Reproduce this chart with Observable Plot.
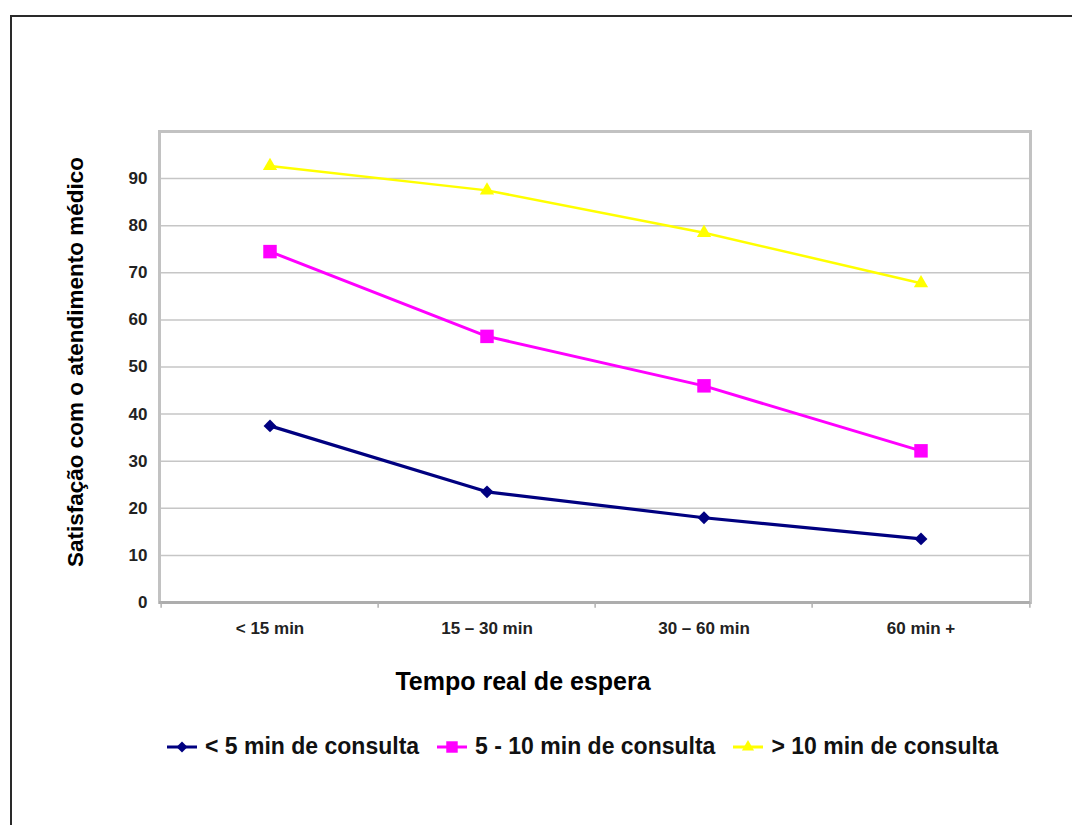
<!DOCTYPE html>
<html><head><meta charset="utf-8">
<script src="https://cdn.jsdelivr.net/npm/d3@7"></script>
<script src="https://cdn.jsdelivr.net/npm/@observablehq/plot@0.6"></script>
<style>
body{margin:0;background:#fff;font-family:"Liberation Sans",Arial,sans-serif;}
#wrap{position:relative;width:1072px;height:825px;overflow:hidden;background:#fff;}
#border{position:absolute;left:10px;top:15px;width:1200px;height:1000px;border:2.5px solid #2a2a2a;box-sizing:border-box;}
#chart{position:absolute;left:0;top:0;}
#legend{position:absolute;left:167px;top:733px;display:flex;align-items:center;font-weight:bold;font-size:23px;color:#111;white-space:nowrap;}
.item{display:flex;align-items:center;margin-right:18px;}
.item svg{margin-right:8px;}
</style></head>
<body><div id="wrap"><div id="border"></div><div id="chart"></div><div id="legend"></div></div>
<script>
const categories = ["< 15 min", "15 – 30 min", "30 – 60 min", "60 min +"];
const seriesNames = ["< 5 min de consulta", "5 - 10 min de consulta", "> 10 min de consulta"];
const lessThan5 = [37.5, 23.5, 18.0, 13.5];
const from5to10 = [74.5, 56.5, 46.0, 32.2];
const moreThan10 = [92.7, 87.5, 78.5, 67.8];
const seriesColors = ["#000080", "#ff00ff", "#ffff00"];
const seriesSymbols = ["diamond2", "square", "triangle"];
const seriesR = [5.8, 7.6, 5.3];
const seriesWidth = [3.2, 3, 2.5];
const yTicks = [0, 10, 20, 30, 40, 50, 60, 70, 80, 90];
const xTitle = "Tempo real de espera";
const yTitle = "Satisfação com o atendimento médico";

const seriesValues = [lessThan5, from5to10, moreThan10];
const data = [];
seriesNames.forEach((s, i) => categories.forEach((c, j) => data.push({series: s, cat: c, value: seriesValues[i][j]})));

const W = 1072, mL = 159, mR = 42;
const bw = (W - mL - mR) / categories.length;

const seriesMarks = seriesNames.flatMap((s, i) => {
  const d = data.filter(e => e.series === s);
  return [
    Plot.line(d, {x: "cat", y: "value", stroke: "series", strokeWidth: seriesWidth[i]}),
    Plot.dot(d, {x: "cat", y: "value", symbol: "series", fill: "series", r: seriesR[i], stroke: null})
  ];
});

const chart = Plot.plot({
  width: W, height: 700,
  marginLeft: mL, marginRight: mR, marginTop: 131, marginBottom: 98,
  style: {fontFamily: "'Liberation Sans', Arial, sans-serif", fontWeight: "bold", background: "transparent", color: "#222"},
  x: {type: "band", domain: categories, padding: 0, label: null},
  y: {domain: [0, 100], label: null},
  color: {domain: seriesNames, range: seriesColors},
  symbol: {domain: seriesNames, range: seriesSymbols},
  marks: [
    Plot.ruleY(yTicks.slice(1), {stroke: "#c6c6c6", strokeWidth: 1.5}),
    Plot.frame({stroke: "#c2c2c2", strokeWidth: 3}),
    Plot.ruleY([0], {stroke: "#adadad", strokeWidth: 3}),
    Plot.ruleX(categories, {dx: -bw / 2, y1: 0, y2: -1.2, stroke: "#b0b0b0", strokeWidth: 1.5}),
    Plot.ruleX(categories.slice(-1), {dx: bw / 2, y1: 0, y2: -1.2, stroke: "#b0b0b0", strokeWidth: 1.5}),
    Plot.axisY({ticks: yTicks, tickSize: 0, tickPadding: 12, fontSize: 17, label: null, fill: "#222"}),
    Plot.axisX({tickSize: 0, tickPadding: 19, fontSize: 17, label: null, fill: "#222"}),
    Plot.text([xTitle], {frameAnchor: "bottom", dx: -72, dy: 87, fontSize: 25, fontWeight: "bold", fill: "#000"}),
    Plot.text([yTitle], {frameAnchor: "left", textAnchor: "middle", dx: -84, dy: -5, rotate: -90, fontSize: 22.5, fontWeight: "bold", fill: "#000"}),
    ...seriesMarks
  ]
});
document.getElementById("chart").appendChild(chart);

// legend
const legend = d3.select("#legend");
const symMap = {diamond2: d3.symbolDiamond2, square: d3.symbolSquare, triangle: d3.symbolTriangle};
seriesNames.forEach((s, i) => {
  const item = legend.append("div").attr("class", "item");
  const svg = item.append("svg").attr("width", 30).attr("height", 16);
  svg.append("line").attr("x1", 0).attr("x2", 30).attr("y1", 8).attr("y2", 8).attr("stroke", seriesColors[i]).attr("stroke-width", 3);
  const r = seriesR[i] * 0.85;
  svg.append("path").attr("transform", "translate(15,8)").attr("fill", seriesColors[i])
    .attr("d", d3.symbol(symMap[seriesSymbols[i]], r * r * Math.PI)());
  item.append("span").text(s);
});
</script></body></html>
